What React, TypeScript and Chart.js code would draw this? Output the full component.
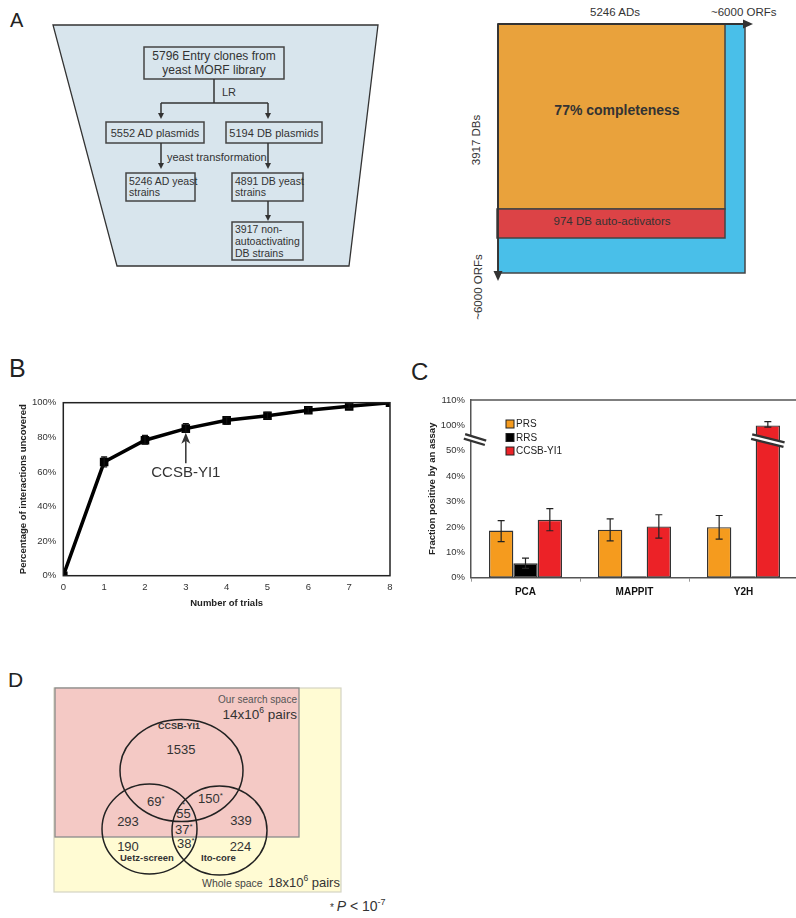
import React, { useEffect, useRef } from 'react';
import { Chart, registerables } from 'chart.js';
Chart.register(...registerables);

const FONT = "'Liberation Sans', Arial, Helvetica, sans-serif";
Chart.defaults.font.family = FONT;

// ---------- Panel B data ----------
const trials = [0, 1, 2, 3, 4, 5, 6, 7, 8];
const uncovered = [0, 65.7, 78.3, 85.0, 89.8, 92.5, 95.6, 97.9, 100];
const uncoveredLow = [0, 62.9, 76.0, 83.0, 87.5, 90.6, 94.0, 96.7, 100];
const uncoveredHigh = [0, 68.6, 81.1, 87.9, 91.7, 94.4, 97.1, 99.4, 100];
const bTicksY = [0, 20, 40, 60, 80, 100];
const annotTrial = 3;
const annotTip = 82.6;
const annotBase = 65;
const annotLabel = 'CCSB-YI1';

// ---------- Panel C data ----------
const assays = ['PCA', 'MAPPIT', 'Y2H'];
const seriesNames = ['PRS', 'RRS', 'CCSB-YI1'];
const prs = [18.6, 18.9, 19.9];
const prsLow = [14.2, 14.5, 15.2];
const prsHigh = [22.5, 23.2, 24.5];
const rrs = [5.7, 0.6, 0.6];
const rrsLow = [3.7, null, null];
const rrsHigh = [7.7, null, null];
const ccsb = [22.8, 20.2, 100];
const ccsbLow = [18.5, 15.6, 99.3];
const ccsbHigh = [27.2, 24.8, 101.5];
const cColors = ['#f59b1e', '#000000', '#ec2227'];
const cTickValues = [0, 10, 20, 30, 40, 50, 100, 110];
const breakLower = 50; // axis jumps from 50% ...
const breakUpper = 90; // ... to 90% (so 100% sits one step above 50%)
const breakMarkAt = 54; // display units

const toDisplay = (v: number) => (v <= breakLower ? v : v - (breakUpper - breakLower));
const fromDisplay = (d: number) => (d <= breakLower ? d : d + (breakUpper - breakLower));

// ---------- Panel D data ----------
const vennCounts = {
  ccsbOnly: '1535',
  ccsbUetz: '69',
  ccsbIto: '150',
  allSearch: '55',
  uetzItoSearch: '37',
  uetzItoOutside: '38',
  uetzSearch: '293',
  itoSearch: '339',
  uetzOutside: '190',
  itoOutside: '224',
};

function ChartB() {
  const ref = useRef<HTMLCanvasElement>(null);
  useEffect(() => {
    const errPlugin = {
      id: 'bExtras',
      afterDatasetsDraw(chart: any) {
        const ctx = chart.ctx;
        const xs = chart.scales.x;
        const ys = chart.scales.y;
        const ca = chart.chartArea;
        ctx.save();
        // error bars
        ctx.strokeStyle = '#111';
        ctx.lineWidth = 1.3;
        trials.forEach((t, i) => {
          if (uncoveredHigh[i] === uncoveredLow[i]) return;
          const x = xs.getPixelForValue(t);
          const y1 = ys.getPixelForValue(uncoveredLow[i]);
          const y2 = ys.getPixelForValue(uncoveredHigh[i]);
          ctx.beginPath();
          ctx.moveTo(x, y1); ctx.lineTo(x, y2);
          ctx.moveTo(x - 3, y1); ctx.lineTo(x + 3, y1);
          ctx.moveTo(x - 3, y2); ctx.lineTo(x + 3, y2);
          ctx.stroke();
        });
        // frame
        ctx.strokeStyle = '#222';
        ctx.lineWidth = 1.5;
        ctx.strokeRect(ca.left, ca.top, ca.right - ca.left, ca.bottom - ca.top);
        // annotation arrow
        const ax = xs.getPixelForValue(annotTrial);
        const tip = ys.getPixelForValue(annotTip);
        const base = ys.getPixelForValue(annotBase);
        ctx.strokeStyle = '#333';
        ctx.fillStyle = '#333';
        ctx.lineWidth = 1.5;
        ctx.beginPath();
        ctx.moveTo(ax, base); ctx.lineTo(ax, tip + 8);
        ctx.stroke();
        ctx.beginPath();
        ctx.moveTo(ax, tip);
        ctx.lineTo(ax - 4.5, tip + 11);
        ctx.lineTo(ax, tip + 8);
        ctx.lineTo(ax + 4.5, tip + 11);
        ctx.closePath();
        ctx.fill();
        ctx.font = `15px ${FONT}`;
        ctx.textAlign = 'center';
        ctx.textBaseline = 'top';
        ctx.fillText(annotLabel, ax, base + 2);
        ctx.restore();
      },
    };
    const chart = new Chart(ref.current!, {
      type: 'line',
      data: {
        datasets: [
          {
            data: trials.map((t, i) => ({ x: t, y: uncovered[i] })),
            borderColor: '#000',
            backgroundColor: '#000',
            borderWidth: 3.5,
            pointStyle: 'rect',
            pointRadius: 3.6,
            pointBackgroundColor: '#000',
            pointBorderColor: '#000',
            tension: 0,
          },
        ],
      },
      options: {
        animation: false,
        responsive: false,
        maintainAspectRatio: false,
        layout: { padding: { top: 12.3, right: 10, left: 0, bottom: 0 } },
        plugins: { legend: { display: false }, tooltip: { enabled: false } },
        scales: {
          x: {
            type: 'linear',
            min: 0,
            max: 8,
            afterFit: (s: any) => { s.height = 44.3; },
            grid: { display: false, drawTicks: false },
            border: { display: false },
            ticks: { stepSize: 1, padding: 6, color: '#333', font: { size: 9.5 } },
            title: {
              display: true,
              text: 'Number of trials',
              color: '#222',
              font: { size: 9.5, weight: 'bold' },
              padding: { top: 0, bottom: 11 },
            },
          },
          y: {
            min: 0,
            max: 100,
            afterFit: (s: any) => { s.width = 63.3; },
            afterBuildTicks: (s: any) => { s.ticks = bTicksY.map((v) => ({ value: v })); },
            grid: { display: false, drawTicks: false },
            border: { display: false },
            ticks: { padding: 7, color: '#333', font: { size: 9.5 }, callback: (v: any) => v + '%' },
            title: {
              display: true,
              text: 'Percentage of interactions uncovered',
              color: '#222',
              font: { size: 9.5, weight: 'bold' },
              padding: { top: 18, bottom: 0 },
            },
          },
        },
      },
      plugins: [errPlugin],
    });
    return () => chart.destroy();
  }, []);
  return (
    <canvas
      ref={ref}
      width={400}
      height={230}
      style={{ position: 'absolute', left: 0, top: 390, width: 400, height: 230 }}
    />
  );
}

function ChartC() {
  const ref = useRef<HTMLCanvasElement>(null);
  useEffect(() => {
    const lows = [prsLow, rrsLow, ccsbLow];
    const highs = [prsHigh, rrsHigh, ccsbHigh];
    const drawBreak = (ctx: any, cx: number, cy: number, half: number, slope: number) => {
      ctx.save();
      ctx.lineCap = 'butt';
      ctx.strokeStyle = '#333';
      ctx.lineWidth = 7;
      ctx.beginPath();
      ctx.moveTo(cx - half, cy - half * slope);
      ctx.lineTo(cx + half, cy + half * slope);
      ctx.stroke();
      ctx.strokeStyle = '#fff';
      ctx.lineWidth = 2.4;
      ctx.beginPath();
      ctx.moveTo(cx - half - 1, cy - (half + 1) * slope);
      ctx.lineTo(cx + half + 1, cy + (half + 1) * slope);
      ctx.stroke();
      ctx.restore();
    };
    const extras = {
      id: 'cExtras',
      afterDatasetsDraw(chart: any) {
        const ctx = chart.ctx;
        const ys = chart.scales.y;
        const ca = chart.chartArea;
        ctx.save();
        // error bars
        ctx.strokeStyle = '#222';
        ctx.lineWidth = 1.2;
        for (let d = 0; d < 3; d++) {
          const meta = chart.getDatasetMeta(d);
          meta.data.forEach((el: any, j: number) => {
            const lo = lows[d][j];
            const hi = highs[d][j];
            if (lo == null || hi == null) return;
            const x = el.x;
            const y1 = ys.getPixelForValue(toDisplay(lo));
            const y2 = ys.getPixelForValue(toDisplay(hi));
            ctx.beginPath();
            ctx.moveTo(x, y1); ctx.lineTo(x, y2);
            ctx.moveTo(x - 3.5, y1); ctx.lineTo(x + 3.5, y1);
            ctx.moveTo(x - 3.5, y2); ctx.lineTo(x + 3.5, y2);
            ctx.stroke();
          });
        }
        // top frame line
        ctx.strokeStyle = '#555';
        ctx.lineWidth = 1.5;
        ctx.beginPath();
        ctx.moveTo(ca.left, ca.top);
        ctx.lineTo(ca.right + 2, ca.top);
        ctx.stroke();
        // break marks
        const by = ys.getPixelForValue(breakMarkAt);
        drawBreak(ctx, ca.left + 4, by - 1, 10.5, 0.3);
        for (let d = 0; d < 3; d++) {
          const meta = chart.getDatasetMeta(d);
          meta.data.forEach((el: any, j: number) => {
            const v = chart.data.datasets[d].data[j];
            if (v > breakMarkAt) {
              drawBreak(ctx, el.x, by, el.width / 2 + 4, 0.25);
            }
          });
        }
        // legend
        ctx.font = `10px ${FONT}`;
        ctx.textBaseline = 'middle';
        ctx.textAlign = 'left';
        seriesNames.forEach((name, i) => {
          const lx = ca.left + 35;
          const ly = ca.top + 24 + i * 13.5;
          ctx.fillStyle = cColors[i];
          ctx.fillRect(lx, ly - 4, 8, 8);
          ctx.strokeStyle = '#222';
          ctx.lineWidth = 1;
          ctx.strokeRect(lx, ly - 4, 8, 8);
          ctx.fillStyle = '#222';
          ctx.fillText(name, lx + 10, ly + 0.5);
        });
        ctx.restore();
      },
    };
    const raw = [prs, rrs, ccsb];
    const chart = new Chart(ref.current!, {
      type: 'bar',
      data: {
        labels: assays,
        datasets: seriesNames.map((name, i) => ({
          label: name,
          data: raw[i].map(toDisplay),
          backgroundColor: cColors[i],
          borderColor: '#333',
          borderWidth: 1.4,
          borderSkipped: false,
          categoryPercentage: 0.67,
          barPercentage: 1,
        })),
      },
      options: {
        animation: false,
        responsive: false,
        maintainAspectRatio: false,
        layout: { padding: { top: 20, right: 2, left: 0, bottom: 0 } },
        plugins: { legend: { display: false }, tooltip: { enabled: false } },
        scales: {
          x: {
            afterFit: (s: any) => { s.height = 42.3; },
            grid: {
              display: true,
              offset: true,
              drawOnChartArea: false,
              drawTicks: true,
              tickLength: 4,
              color: '#999',
            },
            border: { display: true, color: '#555', width: 1.5 },
            ticks: { padding: 5, color: '#111', font: { size: 10, weight: 'bold' } },
          },
          y: {
            min: 0,
            max: toDisplay(110),
            afterFit: (s: any) => { s.width = 71; },
            afterBuildTicks: (s: any) => { s.ticks = cTickValues.map((v) => ({ value: toDisplay(v) })); },
            grid: { display: false, drawTicks: false },
            border: { display: true, color: '#555', width: 1.5 },
            ticks: {
              padding: 6,
              color: '#333',
              font: { size: 9.5 },
              callback: (v: any) => Math.round(fromDisplay(Number(v))) + '%',
            },
            title: {
              display: true,
              text: 'Fraction positive by an assay',
              color: '#222',
              font: { size: 9.5, weight: 'bold' },
              padding: { top: 27, bottom: 0 },
            },
          },
        },
      },
      plugins: [extras],
    });
    return () => chart.destroy();
  }, []);
  return (
    <canvas
      ref={ref}
      width={400}
      height={240}
      style={{ position: 'absolute', left: 400, top: 380, width: 400, height: 240 }}
    />
  );
}

const arrowDown = (x: number, y: number) => `${x - 3},${y - 6} ${x + 3},${y - 6} ${x},${y}`;

function Diagrams() {
  const box = { fill: 'none', stroke: '#444', strokeWidth: 1.5 };
  const line = { stroke: '#333', strokeWidth: 1.5 };
  const t = { fontFamily: FONT, fill: '#333' };
  return (
    <svg
      width={796}
      height={918}
      style={{ position: 'absolute', left: 0, top: 0 }}
      xmlns="http://www.w3.org/2000/svg"
    >
      {/* Panel letters */}
      <text x={10} y={27} fontSize={20} {...t} fill="#222">A</text>
      <text x={9} y={377} fontSize={25} {...t} fill="#222">B</text>
      <text x={411} y={380} fontSize={24} {...t} fill="#222">C</text>
      <text x={8} y={687} fontSize={21} {...t} fill="#222">D</text>

      {/* Panel A left: funnel */}
      <polygon points="53,25 378,25 349,266 117,266" fill="#d8e5ed" stroke="#333" strokeWidth={1.3} />
      <rect x={144} y={47} width={140} height={32} {...box} />
      <text x={214} y={60} fontSize={12} textAnchor="middle" {...t}>5796 Entry clones from</text>
      <text x={214} y={74} fontSize={12} textAnchor="middle" {...t}>yeast MORF library</text>
      <line x1={214} y1={79} x2={214} y2={103} {...line} />
      <text x={222} y={96} fontSize={11} {...t}>LR</text>
      <line x1={161} y1={103} x2={268} y2={103} {...line} />
      <line x1={161} y1={103} x2={161} y2={114} {...line} />
      <line x1={268} y1={103} x2={268} y2={114} {...line} />
      <polygon points={arrowDown(161, 119)} fill="#333" />
      <polygon points={arrowDown(268, 119)} fill="#333" />
      <rect x={106} y={122} width={98} height={21} {...box} />
      <text x={155} y={137} fontSize={11} textAnchor="middle" {...t}>5552 AD plasmids</text>
      <rect x={226} y={122} width={96} height={21} {...box} />
      <text x={274} y={137} fontSize={11} textAnchor="middle" {...t}>5194 DB plasmids</text>
      <line x1={161} y1={143} x2={161} y2={163} {...line} />
      <line x1={268} y1={143} x2={268} y2={163} {...line} />
      <polygon points={arrowDown(161, 169)} fill="#333" />
      <polygon points={arrowDown(268, 169)} fill="#333" />
      <text x={167} y={161} fontSize={11} {...t}>yeast transformation</text>
      <rect x={126} y={173} width={69} height={28} {...box} />
      <text x={129} y={185} fontSize={10.5} {...t}>5246 AD yeast</text>
      <text x={129} y={196} fontSize={10.5} {...t}>strains</text>
      <rect x={232} y={173} width={71} height={28} {...box} />
      <text x={235} y={185} fontSize={10.5} {...t}>4891 DB yeast</text>
      <text x={235} y={196} fontSize={10.5} {...t}>strains</text>
      <line x1={268} y1={201} x2={268} y2={215} {...line} />
      <polygon points={arrowDown(268, 221)} fill="#333" />
      <rect x={232} y={222} width={71} height={38} {...box} />
      <text x={235} y={233} fontSize={10.5} {...t}>3917 non-</text>
      <text x={235} y={245} fontSize={10.5} {...t}>autoactivating</text>
      <text x={235} y={257} fontSize={10.5} {...t}>DB strains</text>

      {/* Panel A right: search space square */}
      <rect x={498} y={24} width={247} height={249} fill="#49bfe9" stroke="#444" strokeWidth={1.5} />
      <rect x={498} y={24} width={227} height={185} fill="#e9a23c" stroke="#444" strokeWidth={1.5} />
      <rect x={497} y={209} width={228} height={29} fill="#dc4346" stroke="#444" strokeWidth={1.5} />
      <text x={617} y={115} fontSize={14} fontWeight="bold" textAnchor="middle" {...t}>77% completeness</text>
      <text x={612} y={225} fontSize={11.5} textAnchor="middle" {...t}>974 DB auto-activators</text>
      <text x={615} y={16} fontSize={11.5} textAnchor="middle" {...t}>5246 ADs</text>
      <text x={711} y={16} fontSize={11.5} {...t}>~6000 ORFs</text>
      <line x1={498} y1={24} x2={745} y2={24} stroke="#333" strokeWidth={1.8} />
      <polygon points="753,24 743,19.5 743,28.5" fill="#333" />
      <line x1={498} y1={24} x2={498} y2={272} stroke="#333" strokeWidth={1.8} />
      <polygon points="498,281 493.5,271 502.5,271" fill="#333" />
      <text x={0} y={0} fontSize={11.5} textAnchor="middle" {...t} transform="translate(480,140) rotate(-90)">3917 DBs</text>
      <text x={0} y={0} fontSize={11.5} textAnchor="middle" {...t} transform="translate(482,287) rotate(-90)">~6000 ORFs</text>

      {/* Panel D: Venn diagram */}
      <rect x={54} y={688} width={287} height={204} fill="#fffbd3" stroke="#d4d4c4" strokeWidth={1.2} />
      <rect x={55} y={688} width={244} height={149} fill="#f4c9c5" stroke="#8a8a8a" strokeWidth={1.3} />
      <ellipse cx={181.5} cy={770.5} rx={61.5} ry={51} fill="none" stroke="#222" strokeWidth={1.5} />
      <ellipse cx={149.5} cy={829} rx={47.5} ry={45} fill="none" stroke="#222" strokeWidth={1.5} />
      <ellipse cx={219.5} cy={830.5} rx={47.5} ry={44.5} fill="none" stroke="#222" strokeWidth={1.5} />
      <text x={297} y={703} fontSize={10} textAnchor="end" {...t} fill="#555">Our search space</text>
      <text x={297} y={719} fontSize={13.5} textAnchor="end" {...t}>
        14x10<tspan fontSize={8.5} dy={-6}>6</tspan><tspan dy={6}> pairs</tspan>
      </text>
      <text x={179} y={729} fontSize={9} fontWeight="bold" textAnchor="middle" {...t}>CCSB-YI1</text>
      <text x={181} y={754} fontSize={13} textAnchor="middle" {...t}>{vennCounts.ccsbOnly}</text>
      <text x={147} y={806} fontSize={13} {...t}>{vennCounts.ccsbUetz}<tspan fontSize={8} dy={-5}>*</tspan></text>
      <text x={198} y={803} fontSize={13} {...t}>{vennCounts.ccsbIto}<tspan fontSize={8} dy={-5}>*</tspan></text>
      <text x={183.5} y={807} fontSize={8} textAnchor="middle" {...t}>*</text>
      <text x={183.5} y={818} fontSize={13} textAnchor="middle" {...t}>{vennCounts.allSearch}</text>
      <text x={128} y={826} fontSize={13} textAnchor="middle" {...t}>{vennCounts.uetzSearch}</text>
      <text x={241} y={825} fontSize={13} textAnchor="middle" {...t}>{vennCounts.itoSearch}</text>
      <text x={175} y={834} fontSize={13} {...t}>{vennCounts.uetzItoSearch}<tspan fontSize={8} dy={-5}>*</tspan></text>
      <text x={128} y={851} fontSize={13} textAnchor="middle" {...t}>{vennCounts.uetzOutside}</text>
      <text x={240.5} y={851} fontSize={13} textAnchor="middle" {...t}>{vennCounts.itoOutside}</text>
      <text x={177} y={848} fontSize={13} {...t}>{vennCounts.uetzItoOutside}<tspan fontSize={8} dy={-5}>*</tspan></text>
      <text x={120} y={861} fontSize={9.5} fontWeight="bold" {...t}>Uetz-screen</text>
      <text x={201} y={861} fontSize={9.5} fontWeight="bold" {...t}>Ito-core</text>
      <text x={202} y={887} fontSize={10.5} {...t} fill="#444">Whole space</text>
      <text x={268} y={887} fontSize={13} {...t}>
        18x10<tspan fontSize={8.5} dy={-6}>6</tspan><tspan dy={6}> pairs</tspan>
      </text>
      <text x={330} y={911} fontSize={14} {...t}>
        <tspan fontSize={10}>* </tspan><tspan fontStyle="italic">P</tspan> &lt; 10<tspan fontSize={9} dy={-6}>-7</tspan>
      </text>
    </svg>
  );
}

export default function App() {
  return (
    <div
      style={{
        position: 'absolute',
        left: 0,
        top: 0,
        width: 796,
        height: 918,
        overflow: 'hidden',
        background: '#fff',
        fontFamily: FONT,
      }}
    >
      <Diagrams />
      <ChartB />
      <ChartC />
    </div>
  );
}
